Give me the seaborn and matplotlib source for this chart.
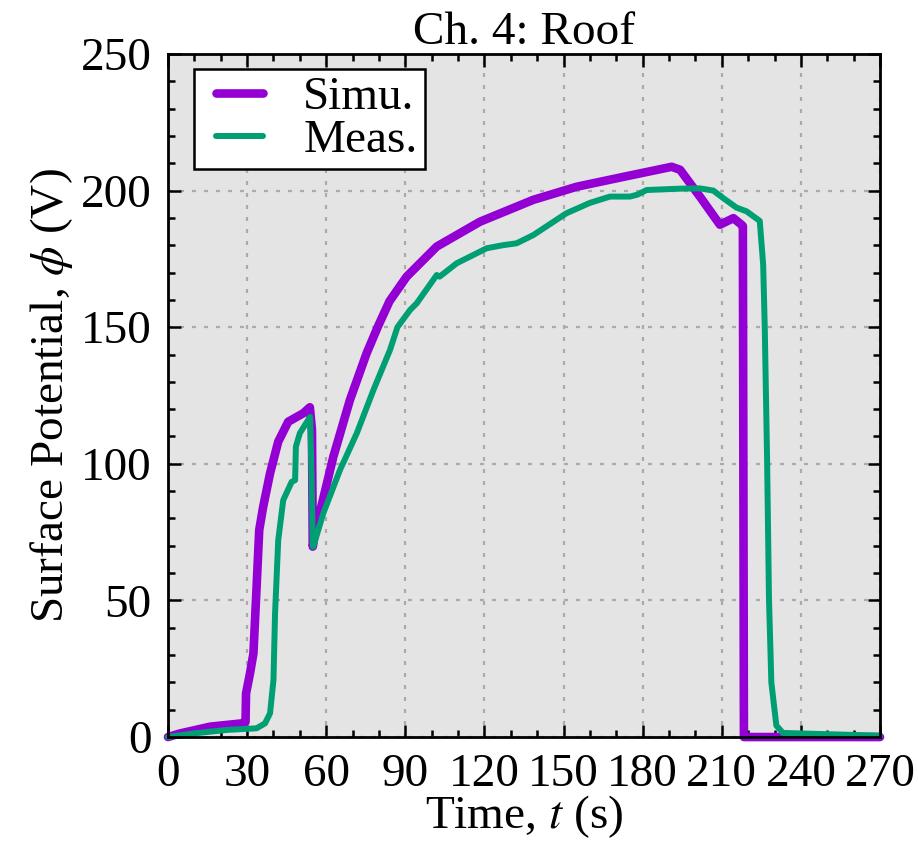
import numpy as np
import pandas as pd
import seaborn as sns
import matplotlib
matplotlib.use("Agg")
import matplotlib.pyplot as plt
from matplotlib.ticker import MultipleLocator
from matplotlib.legend_handler import HandlerLine2D
from matplotlib.lines import Line2D

# ---- data ----
simu_t = [0, 4.5, 16, 28, 29.4, 29.6, 31.1, 32.4, 33.6, 34.6, 36.1, 38.7, 41.8, 45.6,
          51.3, 53.8, 54.6, 54.9, 55.7, 62.7, 69, 75.3, 79.5, 84, 90.5, 101.9, 118.3,
          138.5, 155, 172.6, 191, 194.2, 201.7, 209.3, 214.4, 217.5, 218.0, 218.4, 270]
simu_v = [0, 1.3, 3.8, 5, 5.5, 16, 23.3, 30.6, 55, 75.8, 84.3, 96.5, 108.1, 115.4,
          118.5, 120.7, 112.4, 69.7, 74.6, 102.6, 123.4, 140.4, 150, 159.5, 168.5, 179.5, 188.6,
          196.6, 201.4, 205, 208.7, 207.6, 197.8, 187.5, 189.9, 187.5, 187.0, 0, 0]

meas_t = [0, 9.6, 22.3, 33.6, 36.8, 38.7, 40, 40.6, 41.8, 43.7, 46.9, 48.2, 48.5, 50,
          53.9, 54.5, 54.9, 55.1, 58.9, 65.2, 71.6, 77.9, 84.2, 87, 91.8, 94.3, 101.9, 103,
          109.5, 120.9, 127, 132.2, 138.5, 151.1, 160, 167.6, 175.2, 178, 181.5, 194.2, 201.7,
          206.8, 210.6, 215.6, 219.4, 224.4, 225.7, 226.3, 227.2, 227.9, 228.8, 230.7,
          233.2, 270]
meas_v = [0, 1.3, 2.6, 3.2, 5, 8.7, 20.9, 45.3, 72, 86.7, 93.4, 94, 106.3, 111.2,
          117.2, 94, 69.7, 69.7, 81.9, 97.7, 111.2, 127, 141.7, 150, 156.3, 158.7, 169.1, 168.5,
          173.4, 178.9, 180, 180.7, 183.7, 191.7, 195.5, 197.8, 197.8, 198.5, 200.2, 200.7, 200.8,
          200, 197.2, 193.75, 192.4, 188.9, 172.9, 150, 100.7, 50.7, 20, 4.2,
          1.5, 0.5]

x_ticks = [0, 30, 60, 90, 120, 150, 180, 210, 240, 270]
y_ticks = [0, 50, 100, 150, 200, 250]
labels = ["Simu.", "Meas."]
title = "Ch. 4: Roof"

# ---- styling ----
sns.set_style("ticks")
plt.rcParams["font.family"] = ["Liberation Serif", "DejaVu Serif"]
plt.rcParams["mathtext.fontset"] = "stix"
for k in ["text.color", "axes.labelcolor", "xtick.color", "ytick.color", "axes.edgecolor"]:
    plt.rcParams[k] = "black"

FS = 34
fig = plt.figure(figsize=(9.18, 8.43), dpi=100)
ax = fig.add_axes([0.183, 0.1257, 0.9586 - 0.183, 0.936 - 0.1257])
ax.set_facecolor("#e4e4e4")

sns.lineplot(x=simu_t, y=simu_v, ax=ax, sort=False, estimator=None,
             color="#9400D3", linewidth=6.2, label=labels[0], clip_on=False,
             solid_capstyle="round", solid_joinstyle="round")
sns.lineplot(x=meas_t, y=meas_v, ax=ax, sort=False, estimator=None,
             color="#009E73", linewidth=4.3, label=labels[1], clip_on=False,
             solid_capstyle="round", solid_joinstyle="round")

ax.set_xlim(0, 270)
ax.set_ylim(0, 250)
ax.set_xticks(x_ticks)
ax.set_yticks(y_ticks)
ax.xaxis.set_minor_locator(MultipleLocator(10))
ax.yaxis.set_minor_locator(MultipleLocator(10))
ax.tick_params(which="both", direction="in", top=True, right=True, width=1.8,
               labelsize=FS, pad=12, colors="black")
ax.tick_params(which="major", length=9)
ax.tick_params(which="minor", length=5)
for s in ax.spines.values():
    s.set_visible(True)
    s.set_linewidth(2.0)
    s.set_color("black")
    s.set_zorder(5)

ax.grid(True, which="major", color="#ababab", linestyle=(0, (1.8, 3.6)), linewidth=1.6)
ax.set_axisbelow(True)

ax.set_xlabel("Time, $t$ (s)", fontsize=FS, labelpad=-2)
ax.set_ylabel("Surface Potential, $\\phi$ (V)", fontsize=FS, labelpad=4)
ax.set_title(title, fontsize=FS, pad=6)

handles, _ = ax.get_legend_handles_labels()
leg = ax.legend(handles, labels, loc="upper left", bbox_to_anchor=(0.036, 0.978), fontsize=FS,
                frameon=True, fancybox=False, framealpha=1, edgecolor="black",
                handlelength=1.32, handletextpad=0.85, borderpad=0.15,
                labelspacing=0.0, borderaxespad=0,
                handler_map={Line2D: HandlerLine2D(xpad=0.32)})
leg.get_frame().set_linewidth(1.8)
leg.set_zorder(10)
for ln in leg.get_lines():
    ln.set_solid_capstyle("round")

fig.savefig("out.png", dpi=100)
